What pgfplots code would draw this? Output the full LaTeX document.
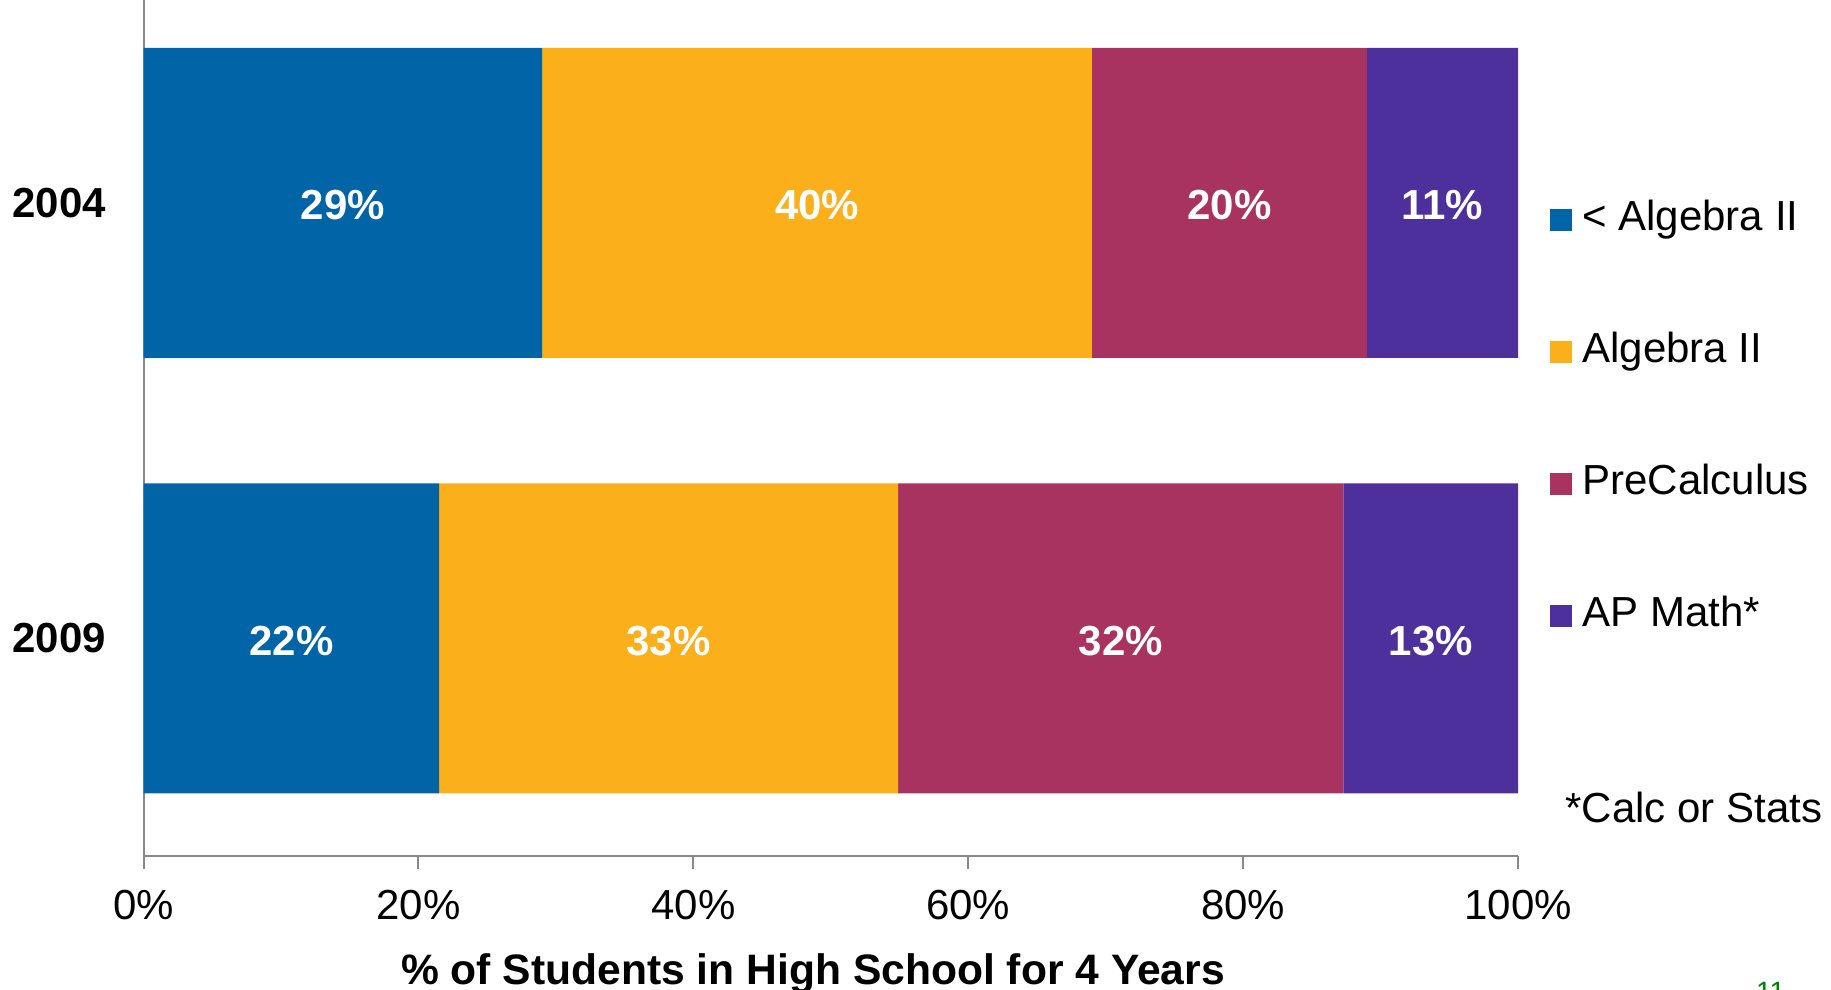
\documentclass[border=0pt]{standalone}
\usepackage{fontspec}
\setmainfont{Liberation Sans}
\usepackage{pgfplots}
\usepackage{pgfplotstable}
\pgfplotsset{compat=1.18}
\definecolor{cblue}{RGB}{0,100,167}
\definecolor{corange}{RGB}{251,175,27}
\definecolor{cmaroon}{RGB}{168,50,96}
\definecolor{cpurple}{RGB}{77,48,155}
\definecolor{axgray}{RGB}{137,137,137}
\definecolor{pgreen}{RGB}{0,128,0}
\newcommand\bigf{\fontsize{21bp}{25bp}\selectfont}
\pgfplotstableread{
pos a b c d la lb lc ld
1 29 40 20 11 29 40 20 11
0 21.5 33.4 32.4 12.7 22 33 32 13
}\bars
\begin{document}
\begin{tikzpicture}[font=\bigf]
\path[use as bounding box] (0,0) rectangle (915.5bp,495bp);
\begin{axis}[
  at={(71.8bp,67bp)}, anchor=south west,
  scale only axis, width=687.2bp, height=428bp,
  xbar stacked, bar width=155bp,
  xmin=0, xmax=100, ymin=-0.5, ymax=1.466,
  axis x line*=bottom, axis y line*=left,
  axis line style={draw=axgray, line width=1bp},
  xtick={0,20,40,60,80,100},
  xticklabels={0\%,20\%,40\%,60\%,80\%,100\%},
  xtick style={draw=axgray, line width=1bp},
  major tick length=6.5bp, tick align=outside,
  ytick={0,1}, yticklabels={2009,2004},
  ytick style={draw=none},
  xticklabel style={anchor=base, inner sep=0pt, yshift=-25.2bp, font=\bigf},
  yticklabel style={anchor=east, inner sep=0pt, xshift=-12.2bp, font=\bigf\bfseries},
  xlabel={\% of Students in High School for 4 Years},
  xlabel style={at={(axis description cs:0.487,0)}, anchor=base, yshift=-64bp, inner sep=0pt, font=\fontsize{21.3bp}{25bp}\selectfont\bfseries},
  legend style={at={(1.0233,0.766)}, anchor=north west, draw=none, fill=none, inner sep=0pt,
    row sep=46.5bp, column sep=5bp, font=\bigf,
    nodes={inner sep=0pt, text height=15bp, text depth=4.5bp}},
  legend cell align=left,
  legend image code/.code={\path[#1] (0bp,-5.5bp) rectangle (11bp,5.5bp);},
  /pgf/number format/assume math mode=true,
  point meta=explicit,
  nodes near coords={\pgfmathprintnumber{\pgfplotspointmeta}\%},
  every node near coord/.append style={anchor=center, yshift=-1.2bp, text=white, font=\bigf\bfseries},
  clip=false,
]
\addplot[fill=cblue, draw=none] table[x=a, y=pos, meta=la] {\bars};
\addplot[fill=corange, draw=none] table[x=b, y=pos, meta=lb] {\bars};
\addplot[fill=cmaroon, draw=none] table[x=c, y=pos, meta=lc] {\bars};
\addplot[fill=cpurple, draw=none] table[x=d, y=pos, meta=ld] {\bars};
\legend{< Algebra II, Algebra II, PreCalculus, AP Math*}
\node[anchor=west, inner sep=0pt, font=\bigf] at (axis description cs:1.0342,0.0572) {*Calc or Stats};
\end{axis}
\begin{scope}
\clip (0,0) rectangle (915.5bp,495bp);
\node[anchor=north west, inner sep=0pt, text=pgreen, font=\fontsize{14bp}{16bp}\selectfont] at (877.8bp,4bp) {11};
\end{scope}
\end{tikzpicture}
\end{document}
